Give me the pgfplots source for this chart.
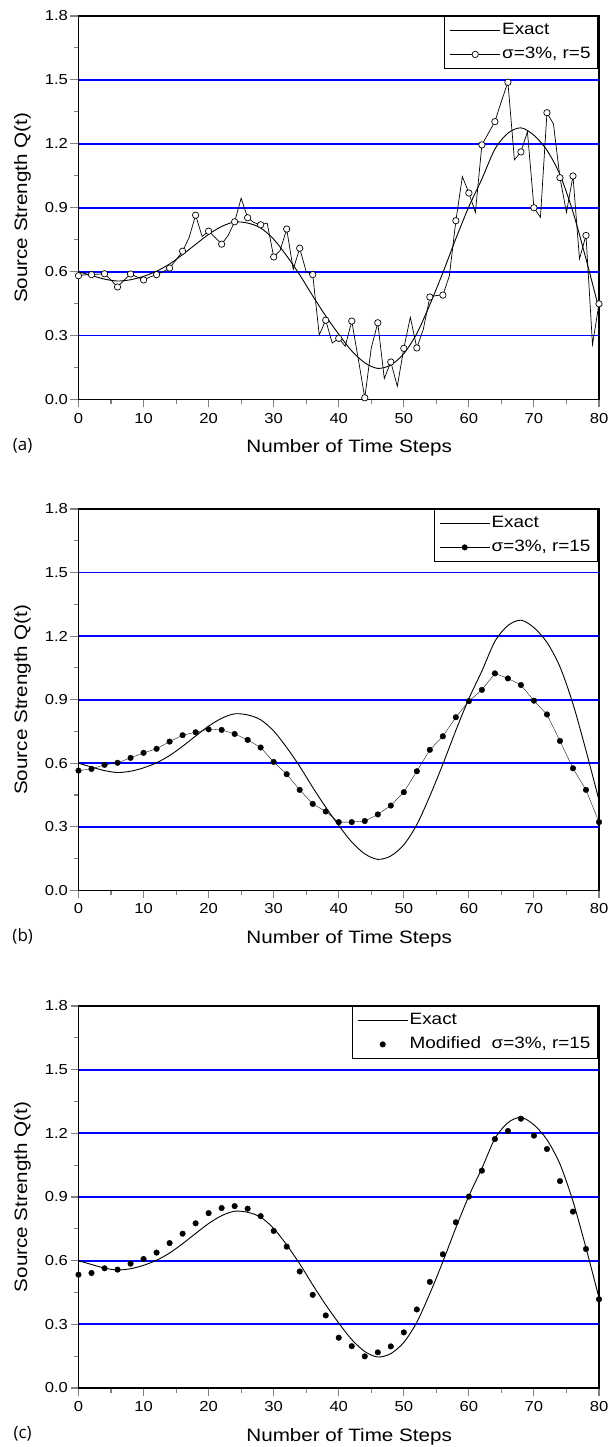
\documentclass[border=0pt]{standalone}
\usepackage{pgfplots}
\pgfplotsset{compat=1.18}
\usepackage{pgfplotstable}
\usepackage{fontspec}
\setmainfont{Liberation Sans}[FakeStretch=1.15]
\newfontfamily\panelfont{Open Sans}

\pgfplotstableread{
x y
0 0.600
2 0.582
4 0.565
6 0.556
8 0.562
10 0.578
12 0.602
14 0.636
16 0.680
18 0.728
20 0.775
22 0.812
24 0.833
26 0.828
28 0.805
30 0.752
32 0.674
34 0.585
36 0.486
38 0.392
40 0.306
42 0.228
44 0.172
46 0.146
48 0.162
50 0.215
52 0.310
54 0.445
56 0.595
58 0.755
60 0.905
62 1.035
64 1.175
66 1.250
68 1.275
70 1.240
72 1.170
74 1.055
76 0.880
78 0.660
80 0.425
}\exact

\pgfplotstableread{
x y
0 0.581
1 0.585
2 0.586
3 0.588
4 0.590
5 0.560
6 0.528
7 0.560
8 0.589
9 0.575
10 0.561
11 0.575
12 0.586
13 0.600
14 0.617
15 0.655
16 0.696
17 0.760
18 0.865
19 0.765
20 0.790
21 0.760
22 0.729
23 0.770
24 0.834
25 0.945
26 0.853
27 0.830
28 0.820
29 0.828
30 0.669
31 0.700
32 0.800
33 0.610
34 0.710
35 0.600
36 0.586
37 0.303
38 0.372
39 0.265
40 0.287
41 0.250
42 0.368
43 0.190
44 0.008
45 0.242
46 0.360
47 0.098
48 0.176
49 0.062
50 0.240
51 0.386
52 0.242
53 0.330
54 0.481
55 0.488
56 0.490
57 0.580
58 0.839
59 1.046
60 0.969
61 0.878
62 1.195
63 1.250
64 1.304
65 1.400
66 1.489
67 1.125
68 1.162
69 1.257
70 0.900
71 0.855
72 1.346
73 1.293
74 1.041
75 0.878
76 1.049
77 0.660
78 0.770
79 0.258
80 0.449
}\seriesA

\pgfplotstableread{
x y
0 0.565
2 0.573
4 0.592
6 0.602
8 0.625
10 0.649
12 0.668
14 0.702
16 0.732
18 0.746
20 0.760
22 0.757
24 0.738
26 0.710
28 0.674
30 0.606
32 0.548
34 0.474
36 0.408
38 0.372
40 0.322
42 0.322
44 0.327
46 0.358
48 0.400
50 0.463
52 0.562
54 0.663
56 0.727
58 0.817
60 0.893
62 0.946
64 1.024
66 1.000
68 0.969
70 0.895
72 0.830
74 0.705
76 0.576
78 0.474
80 0.322
}\seriesB

\pgfplotstableread{
x y
0 0.534
2 0.542
4 0.564
6 0.558
8 0.586
10 0.608
12 0.638
14 0.683
16 0.727
18 0.776
20 0.824
22 0.848
24 0.857
26 0.845
28 0.810
30 0.740
32 0.666
34 0.549
36 0.439
38 0.342
40 0.237
42 0.197
44 0.149
46 0.168
48 0.196
50 0.262
52 0.370
54 0.500
56 0.630
58 0.781
60 0.902
62 1.024
64 1.173
66 1.211
68 1.269
70 1.189
72 1.126
74 0.975
76 0.831
78 0.655
80 0.418
}\seriesC

\tikzset{panellabel/.style={font=\panelfont\fontsize{17}{19}\selectfont, xshift=-55.8bp, yshift=-46bp}}

\newcommand{\bluegrid}{%
  \addplot[blue, line width=1.8bp, forget plot] coordinates {(0,0.3) (80,0.3)};
  \addplot[blue, line width=1.8bp, forget plot] coordinates {(0,0.6) (80,0.6)};
  \addplot[blue, line width=1.8bp, forget plot] coordinates {(0,0.9) (80,0.9)};
  \addplot[blue, line width=1.8bp, forget plot] coordinates {(0,1.2) (80,1.2)};
  \addplot[blue, line width=1.8bp, forget plot] coordinates {(0,1.5) (80,1.5)};
}

\pgfplotsset{
  panel/.style={
    scale only axis,
    width=520.5bp,
    anchor=south west,
    clip mode=individual,
    xmin=0, xmax=80, ymin=0, ymax=1.8,
    xtick={0,10,...,80},
    ytick={0,0.3,0.6,0.9,1.2,1.5,1.8},
    minor x tick num=1,
    minor y tick num=1,
    tick align=outside,
    xtick pos=bottom, ytick pos=left,
    major tick length=8bp,
    minor tick length=4.5bp,
    axis line style={line width=1.2bp},
    tick style={line width=1.1bp},
    tick label style={font=\fontsize{14.5}{16}\selectfont},
    /pgf/number format/assume math mode=true,
    yticklabel style={/pgf/number format/.cd, fixed, fixed zerofill, precision=1},
    xticklabel shift=2bp,
    yticklabel shift=-1bp,
    xlabel={Number of Time Steps},
    ylabel={Source Strength Q(t)},
    every axis x label/.style={at={(axis description cs:0.52,0)}, anchor=center, yshift=-48.5bp, font=\fontsize{18}{20}\selectfont},
    every axis y label/.style={at={(axis description cs:-0.1076,0.5)}, rotate=90, anchor=center, font=\fontsize{18}{20}\selectfont},
    legend style={at={(rel axis cs:0.997,1)}, anchor=north east, draw=black, line width=0.8bp,
      font=\fontsize{16.5}{18}\selectfont, inner xsep=5bp, inner ysep=4.5bp, row sep=5bp,
      nodes={inner xsep=1.5bp, inner ysep=1.5bp, text height=12bp, text depth=4bp}},
    legend cell align=left,
    legend image code/.code={\draw[mark repeat=2, mark phase=2, ##1] plot coordinates {(0bp,0bp) (25bp,0bp) (50bp,0bp)};},
  },
  exactstyle/.style={black, line width=0.9bp, smooth, no markers},
}

\begin{document}
\begin{tikzpicture}
\path[use as bounding box] (0,0) rectangle (611bp,1447bp);

% (a)
\begin{axis}[panel, at={(78.5bp,1047.5bp)}, height=383.5bp]
\bluegrid
\addplot[exactstyle] table {\exact};
\addlegendentry{Exact}
\addplot[black, line width=0.7bp, mark=*, mark repeat=2, mark size=3.2bp,
  mark options={fill=white, draw=black, line width=0.7bp, solid}] table {\seriesA};
\addlegendentry{σ=3\%, r=5}
\node[panellabel] at (rel axis cs:0,0) {(a)};
\end{axis}

% (b)
\begin{axis}[panel, at={(78.5bp,556.7bp)}, height=381.3bp]
\bluegrid
\addplot[exactstyle] table {\exact};
\addlegendentry{Exact}
\addplot[black, line width=0.35bp, mark=*, mark size=2.8bp,
  mark options={fill=black, draw=black, line width=0.4bp, solid}] table {\seriesB};
\addlegendentry{σ=3\%, r=15}
\node[panellabel] at (rel axis cs:0,0) {(b)};
\end{axis}

% (c)
\begin{axis}[panel, at={(78.5bp,59bp)}, height=382bp]
\bluegrid
\addplot[exactstyle] table {\exact};
\addlegendentry{Exact}
\addplot[only marks, black, mark=*, mark size=2.8bp,
  mark options={fill=black, draw=black, line width=0.4bp}] table {\seriesC};
\addlegendentry{Modified\ \ σ=3\%, r=15}
\node[panellabel] at (rel axis cs:0,0) {(c)};
\end{axis}
\end{tikzpicture}
\end{document}
